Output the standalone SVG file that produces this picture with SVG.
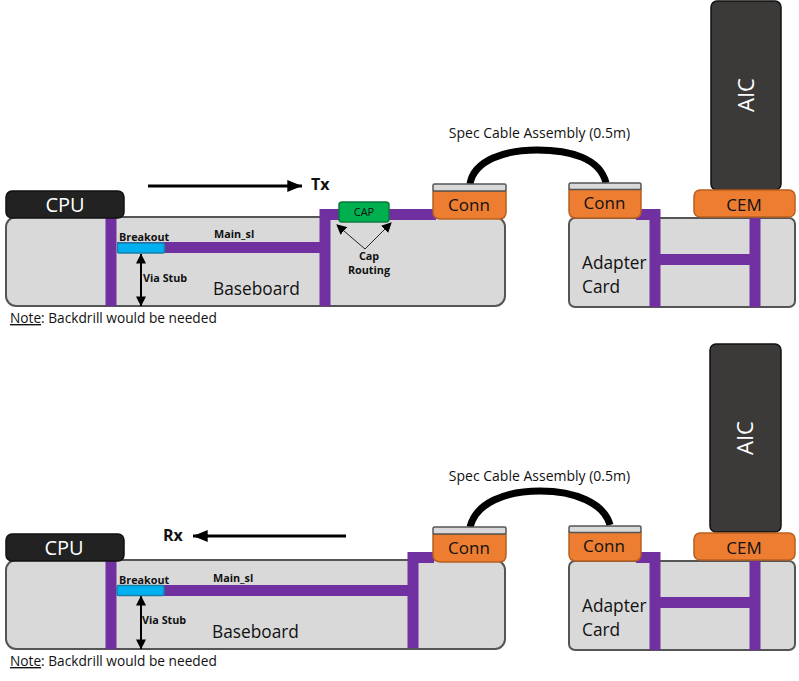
<svg xmlns="http://www.w3.org/2000/svg" width="799" height="681" viewBox="0 0 799 681">
<style>
text{font-family:"Open Sans","Noto Sans","Liberation Sans",sans-serif;fill:#111}
.board{fill:#d9d9d9;stroke:#555;stroke-width:2}
.cpu{fill:#222;stroke:#111;stroke-width:1.5}
.aic{fill:#3b3a39;stroke:#111;stroke-width:1.5}
.or{fill:#ed7d31;stroke:#b85f1f;stroke-width:1.5}
.gr{fill:#d9d9d9;stroke:#555;stroke-width:1.5}
.tr{fill:none;stroke:#7030a0;stroke-width:11}
.cable{fill:none;stroke:#000;stroke-width:7}
.ar{fill:none;stroke:#000;stroke-width:3}
.ar1{fill:none;stroke:#000;stroke-width:2}
.ar0{fill:none;stroke:#222;stroke-width:1}
.bo{fill:#00b0f0;stroke:#1b7fa8;stroke-width:1.5}
.b{font-weight:700;font-size:10.8px}
.l{font-size:17.3px}
.m{font-size:17px}
.s{font-size:14px}
.n{font-size:13.7px}
.w{fill:#fff;font-size:20px}
.a{fill:#fff;font-size:22px}
.m2{text-anchor:middle}
</style>
<defs>
<marker id="h" markerWidth="5" markerHeight="4" refX="4.900" refY="2" orient="auto" markerUnits="strokeWidth"><path d="M0 0L5 2L0 4z" fill="#000"/></marker>
<marker id="h2" markerWidth="5" markerHeight="5" refX="4.800" refY="2.500" orient="auto-start-reverse" markerUnits="strokeWidth"><path d="M0 0L5 2.500L0 5z" fill="#000"/></marker>
<marker id="h3" markerWidth="10" markerHeight="10" refX="9" refY="5" orient="auto" markerUnits="strokeWidth"><path d="M0 0L10 5L0 10z" fill="#000"/></marker>
</defs>

<g id="baseboard-tx"><rect class="board" x="6" y="217" width="499" height="89" rx="10"/><text class="l" x="213" y="295">Baseboard</text></g>
<g id="adapter-tx"><rect class="board" x="569" y="218" width="226" height="89" rx="6"/><text class="l" x="582" y="269">Adapter</text><text class="l" x="582" y="293">Card</text></g>
<g id="baseboard-rx"><rect class="board" x="6" y="560" width="499" height="89" rx="10"/><text class="l" x="212" y="638">Baseboard</text></g>
<g id="adapter-rx"><rect class="board" x="569" y="561" width="226" height="89" rx="6"/><text class="l" x="582" y="612">Adapter</text><text class="l" x="582" y="636">Card</text></g>

<g id="connectors">
<path class="tr" d="M111 218V306"/>
<path class="tr" d="M117 247.500H325"/>
<path class="tr" d="M325 306V214.500H436"/>
<path class="tr" d="M636 214.500H655V307"/>
<path class="tr" d="M655 259.500H755"/>
<path class="tr" d="M755 218V307"/>
<path class="cable" d="M470 184C474 160 505 150 537 150C570 150 600 158 606 183"/>
<path class="ar" d="M148 186H302" marker-end="url(#h)"/>
<path class="ar1" d="M141 254V306" marker-start="url(#h2)" marker-end="url(#h2)"/>
<path class="ar0" d="M365 249L337 225" marker-end="url(#h3)"/>
<path class="ar0" d="M365 249L391 223" marker-end="url(#h3)"/>

<path class="tr" d="M111 561V649"/>
<path class="tr" d="M117 590.500H413"/>
<path class="tr" d="M413 648V557.500H434"/>
<path class="tr" d="M636 557.500H655V650"/>
<path class="tr" d="M655 602.500H755"/>
<path class="tr" d="M755 561V650"/>
<path class="cable" d="M470 527C476 503 505 491 540 491C575 491 604 503 610 525"/>
<path class="ar" d="M346 536H193" marker-end="url(#h)"/>
<path class="ar1" d="M141 596V649" marker-start="url(#h2)" marker-end="url(#h2)"/>
</g>

<g id="cpu-tx"><rect class="cpu" x="6" y="191" width="118" height="27" rx="6"/><text class="w m2" x="65" y="212">CPU</text></g>
<g id="breakout-tx"><rect class="bo" x="117.500" y="243" width="47" height="10" rx="1.500"/><text class="b" x="119" y="241">Breakout</text></g>
<g id="main-tx"><text class="b" x="214" y="238">Main_sl</text></g>
<g id="stub-tx"><text class="b" x="143" y="282">Via Stub</text></g>
<g id="cap"><rect x="339" y="202" width="50" height="20" rx="3" fill="#00b050" stroke="#0b7a3b" stroke-width="1.500"/><text class="m2" x="364" y="216" font-size="11">CAP</text></g>
<g id="cap-routing"><text class="b m2" x="369" y="260">Cap</text><text class="b m2" x="369" y="274">Routing</text></g>
<g id="conn-base-tx"><path class="or" d="M433 191H506V212Q506 219 499 219H441Q433 219 433 212Z"/><rect class="gr" x="433" y="184" width="73" height="7" rx="1.500"/><text class="m m2" x="469" y="211">Conn</text></g>
<g id="conn-adapter-tx"><path class="or" d="M569 189H641V211Q641 218 634 218H576Q569 218 569 211Z"/><rect class="gr" x="569" y="183" width="72" height="6.500" rx="1.500"/><text class="m m2" x="604.500" y="209">Conn</text></g>
<g id="aic-tx"><rect class="aic" x="711" y="1" width="70" height="189" rx="6"/><text class="a m2" transform="translate(754 95) rotate(-90)">AIC</text></g>
<g id="cem-tx"><rect class="or" x="694" y="190" width="101" height="27" rx="6"/><text class="m m2" x="744" y="211">CEM</text></g>
<g id="tx-label"><text x="311" y="190" font-size="16" font-weight="700">Tx</text></g>
<g id="cable-label-tx"><text class="s m2" x="539.500" y="138">Spec Cable Assembly (0.5m)</text></g>
<g id="note-tx"><text class="n" x="10" y="323"><tspan text-decoration="underline">Note</tspan>: Backdrill would be needed</text></g>

<g id="cpu-rx"><rect class="cpu" x="6" y="534" width="118" height="27" rx="6"/><text class="w m2" x="64" y="555">CPU</text></g>
<g id="breakout-rx"><rect class="bo" x="117" y="585.500" width="47" height="10" rx="1.500"/><text class="b" x="119" y="584">Breakout</text></g>
<g id="main-rx"><text class="b" x="213" y="582">Main_sl</text></g>
<g id="stub-rx"><text class="b" x="142" y="624">Via Stub</text></g>
<g id="conn-base-rx"><path class="or" d="M433 534H506V555Q506 562 499 562H441Q433 562 433 555Z"/><rect class="gr" x="433" y="527" width="73" height="7" rx="1.500"/><text class="m m2" x="469" y="554">Conn</text></g>
<g id="conn-adapter-rx"><path class="or" d="M569 532H641V554Q641 561 634 561H576Q569 561 569 554Z"/><rect class="gr" x="569" y="526" width="72" height="6.500" rx="1.500"/><text class="m m2" x="604" y="552">Conn</text></g>
<g id="aic-rx"><rect class="aic" x="710" y="344" width="71" height="188" rx="6"/><text class="a m2" transform="translate(753 438) rotate(-90)">AIC</text></g>
<g id="cem-rx"><rect class="or" x="694" y="533" width="101" height="27" rx="6"/><text class="m m2" x="744" y="554">CEM</text></g>
<g id="rx-label"><text x="163" y="541" font-size="16" font-weight="700">Rx</text></g>
<g id="cable-label-rx"><text class="s m2" x="539.500" y="481">Spec Cable Assembly (0.5m)</text></g>
<g id="note-rx"><text class="n" x="10" y="666"><tspan text-decoration="underline">Note</tspan>: Backdrill would be needed</text></g>
</svg>
